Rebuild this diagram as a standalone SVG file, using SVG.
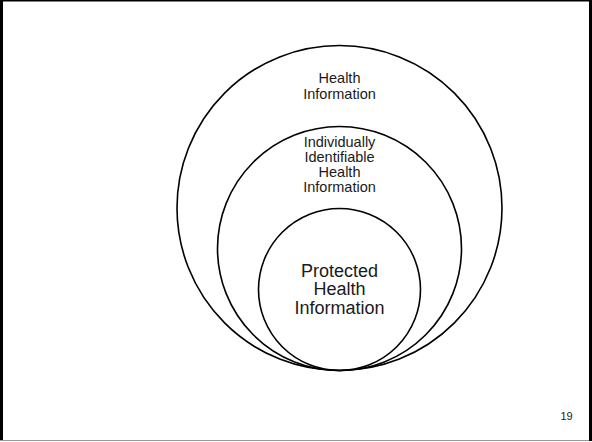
<svg xmlns="http://www.w3.org/2000/svg" width="592" height="442" viewBox="0 0 592 442">
  <style>
    .ring { fill: none; stroke: #000; stroke-width: 1.6; }
    .lbl { font-family: "Liberation Sans", Arial, sans-serif; fill: #1a1a1a; text-anchor: middle; }
    .sm { font-size: 14.5px; }
    .lg { font-size: 18px; }
    .pg { font-family: "Liberation Sans", Arial, sans-serif; font-size: 11px; fill: #1a1a1a; text-anchor: middle; }
  </style>

  <rect x="0" y="0" width="592" height="442" fill="#fff"/>

  <!-- slide frame -->
  <g id="frame">
    <rect x="0" y="0" width="3" height="441" fill="#000"/>
    <rect x="0" y="0" width="592" height="1.5" fill="#000"/>
    <rect x="589" y="0" width="3" height="441" fill="#000"/>
    <rect x="0" y="440" width="589" height="1" fill="#999"/>
  </g>

  <!-- nested sets, all touching at the bottom -->
  <g id="health-information">
    <circle class="ring" cx="339.5" cy="208" r="162.5"/>
    <text class="lbl sm" x="339.5" y="83.3">Health</text>
    <text class="lbl sm" x="339.5" y="98.6">Information</text>
  </g>

  <g id="iihi">
    <circle class="ring" cx="339.5" cy="248.5" r="122"/>
    <text class="lbl sm" x="339.5" y="147">Individually</text>
    <text class="lbl sm" x="339.5" y="162">Identifiable</text>
    <text class="lbl sm" x="339.5" y="177">Health</text>
    <text class="lbl sm" x="339.5" y="192">Information</text>
  </g>

  <g id="phi">
    <circle class="ring" cx="339.5" cy="289.5" r="81"/>
    <text class="lbl lg" x="339.5" y="276.5">Protected</text>
    <text class="lbl lg" x="339.5" y="295.3">Health</text>
    <text class="lbl lg" x="339.5" y="314">Information</text>
  </g>

  <g id="connectors"/>

  <text class="pg" x="566.5" y="419.5">19</text>
</svg>
